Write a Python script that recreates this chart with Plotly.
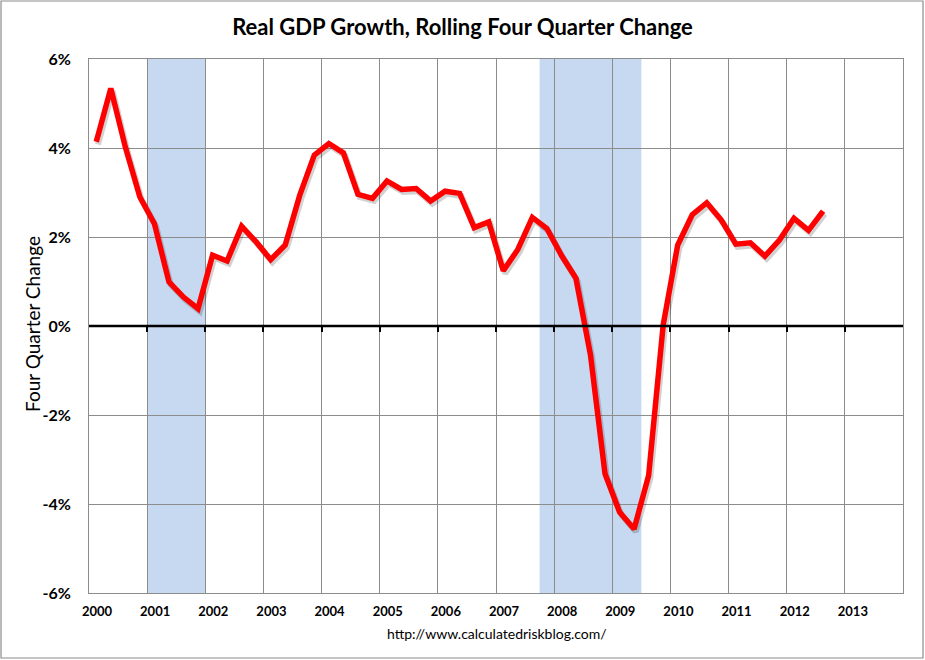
import plotly.graph_objects as go

# ---- data (rolling four-quarter real GDP change, %) ----
start_year = 2000
growth = [4.14, 5.34, 4.02, 2.90, 2.30, 0.99, 0.65, 0.39,
          1.59, 1.46, 2.24, 1.89, 1.49, 1.82, 2.94, 3.84,
          4.10, 3.89, 2.96, 2.87, 3.26, 3.07, 3.09, 2.81,
          3.03, 2.98, 2.21, 2.34, 1.24, 1.72, 2.44, 2.19,
          1.59, 1.07, -0.65, -3.32, -4.18, -4.56, -3.36, 0.02,
          1.82, 2.50, 2.77, 2.38, 1.84, 1.87, 1.57, 1.93,
          2.42, 2.15, 2.58]
year_labels = [str(y) for y in range(2000, 2014)]
y_ticks = [-6, -4, -2, 0, 2, 4, 6]
y_ticktext = ["-6%", "-4%", "-2%", "0%", "2%", "4%", "6%"]
recessions = [(2001.0, 2002.0), (2007.75, 2009.5)]

# quarter centres in fractional years
xq = [start_year + (i + 0.5) / 4 for i in range(len(growth))]

FONT = "Lato, 'Open Sans', sans-serif"
W, H = 925, 660
ML, MR, MT, MB = 89, 22, 59, 67
PW, PH = W - ML - MR, H - MT - MB

fig = go.Figure()

# drop shadow
fig.add_trace(go.Scatter(
    x=[v + 0.03 for v in xq], y=[v - 0.06 for v in growth],
    mode="lines", line=dict(color="rgba(0,0,0,0.18)", width=6),
    hoverinfo="skip", showlegend=False))

fig.add_trace(go.Scatter(
    x=xq, y=growth, mode="lines",
    line=dict(color="#FF0000", width=5.5),
    showlegend=False))

# invisible trace on overlay axis for zero-line ticks
fig.add_trace(go.Scatter(x=[2000, 2014], y=[0, 0], xaxis="x2",
                         mode="lines", line=dict(width=0),
                         hoverinfo="skip", showlegend=False))

shapes = []
for a, b in recessions:
    shapes.append(dict(type="rect", xref="x", yref="paper", x0=a, x1=b,
                       y0=0, y1=1, fillcolor="#C6D9F1", line=dict(width=0),
                       layer="below"))
# zero line
shapes.append(dict(type="line", xref="paper", yref="y", x0=0, x1=1, y0=0, y1=0,
                   line=dict(color="black", width=2.5)))
# outer chart border
shapes.append(dict(type="rect", xref="paper", yref="paper",
                   x0=(1 - ML) / PW, x1=(W - 2 - ML) / PW,
                   y0=-(H - 2 - MT - PH) / PH, y1=1 + (MT - 1) / PH,
                   line=dict(color="#8C8C8C", width=1.2)))

fig.update_layout(
    width=W, height=H,
    margin=dict(l=ML, r=MR, t=MT, b=MB),
    paper_bgcolor="white", plot_bgcolor="white",
    font=dict(family=FONT, color="black"),
    title=dict(text="<b>Real GDP Growth, Rolling Four Quarter Change</b>",
               x=0.5, xref="container", xanchor="center",
               y=1 - 27 / H, yanchor="middle",
               font=dict(size=22, family=FONT, color="black")),
    shapes=shapes,
    xaxis=dict(range=[2000, 2014], tickmode="array",
               tickvals=list(range(2000, 2014)),
               ticktext=["<b>%s</b>" % t for t in year_labels],
               ticklabelshift=8, ticklabelstandoff=6,
               showgrid=True, gridcolor="#8C8C8C", gridwidth=1,
               showline=True, linecolor="#8C8C8C", linewidth=1, mirror=True,
               ticks="", zeroline=False,
               tickfont=dict(size=13, family=FONT, color="black")),
    xaxis2=dict(range=[2000, 2014], overlaying="x", anchor="free",
                position=0.5, side="bottom", tickmode="array",
                tickvals=list(range(2001, 2014)), ticks="outside",
                ticklen=5, tickwidth=2, tickcolor="black",
                showticklabels=False, showgrid=False, showline=False,
                zeroline=False),
    yaxis=dict(range=[-6, 6], tickmode="array", tickvals=y_ticks,
               ticktext=["<b>%s</b>" % t for t in y_ticktext],
               showgrid=True, gridcolor="#8C8C8C", gridwidth=1,
               showline=True, linecolor="#8C8C8C", linewidth=1, mirror=True,
               zeroline=False, ticks="", ticklabelstandoff=14,
               tickfont=dict(size=16, family=FONT, color="black")),
    annotations=[
        dict(text="http://www.calculatedriskblog.com/",
             xref="paper", yref="paper",
             x=(497 - ML) / PW, y=-(633 - MT - PH) / PH,
             xanchor="center", yanchor="middle", showarrow=False,
             font=dict(size=14, family=FONT, color="black")),
        dict(text="Four Quarter Change", textangle=-90,
             xref="paper", yref="paper",
             x=(32 - ML) / PW, y=1 - (324 - MT) / PH,
             xanchor="center", yanchor="middle", showarrow=False,
             font=dict(size=19, family=FONT, color="black")),
    ],
)

fig.write_html("out.html", config={"displayModeBar": False},
               post_script="document.body.style.margin='0';"
                           "document.body.style.overflow='hidden';")
